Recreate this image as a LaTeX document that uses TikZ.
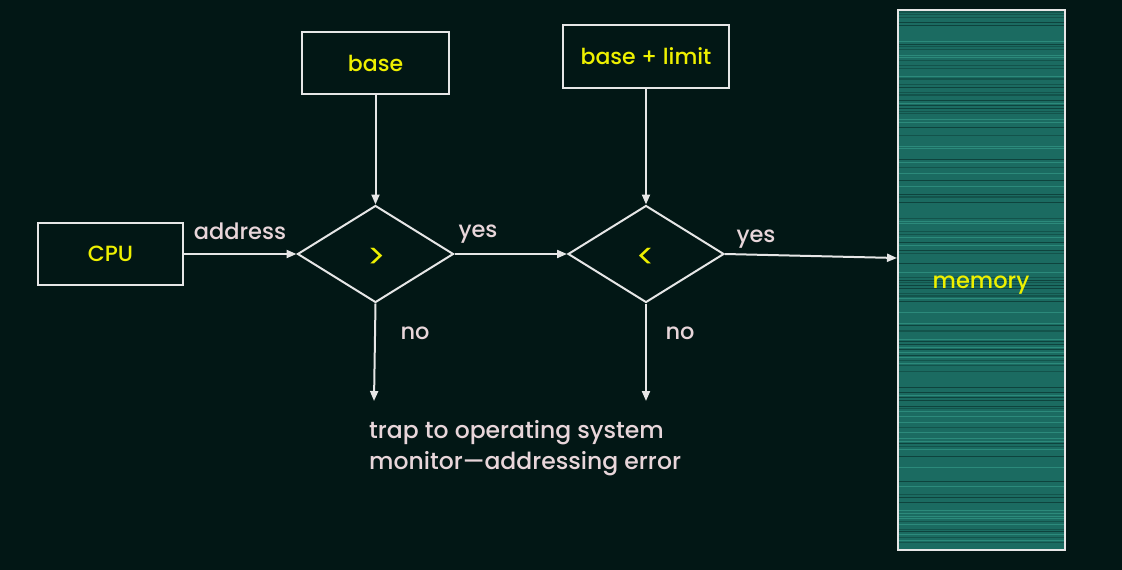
\documentclass[tikz,border=0pt]{standalone}
\usepackage{fontspec}
\setmainfont{Poppins Medium}
\newfontfamily\cmpfont{Poppins}
\usetikzlibrary{arrows.meta,shapes.geometric}
\definecolor{bg}{HTML}{021715}
\definecolor{ln}{HTML}{E6E6E6}
\definecolor{yel}{HTML}{EEF000}
\definecolor{lbl}{HTML}{E8D6DA}
\definecolor{teal1}{HTML}{1B6B61}
\definecolor{teal2}{HTML}{0E433D}
\definecolor{teal3}{HTML}{2C8A7B}
\tikzset{
  box/.style={draw=ln,line width=2pt,minimum width=#1,minimum height=62pt,inner sep=0pt,text=yel,font=\fontsize{22}{26}\selectfont},
  dec/.style={draw=ln,line width=2pt,diamond,minimum width=156pt,minimum height=97pt,inner sep=0pt},
  cmp/.style={text=yel,font=\cmpfont\fontsize{34}{40}\selectfont,inner sep=0pt},
  conn/.style={draw=ln,line width=2pt,-{Triangle[length=10pt,width=8pt]}},
  lab/.style={text=lbl,font=\fontsize{22.5}{26}\selectfont,inner sep=0pt},
}
\begin{document}
\begin{tikzpicture}[x=1pt,y=-1pt]
\fill[bg] (0,0) rectangle (1122,570);
\useasboundingbox (0,0) rectangle (1122,570);
% memory
\fill[teal1] (898,10) rectangle (1065,550);
\pgfmathsetseed{7}
\foreach \i in {0,...,200}{
  \pgfmathsetmacro{\yy}{12+\i*2.68}
  \pgfmathrandominteger{\c}{0}{4}
  \ifcase\c
    \draw[teal2,line width=0.9pt] (899,\yy) -- (1064,\yy);
  \or
    \draw[teal3,line width=0.6pt] (899,\yy) -- (1064,\yy);
  \or
    \draw[teal2!60!teal1,line width=1.2pt] (899,\yy) -- (1064,\yy);
  \or
  \or
  \fi
}
\node[draw=ln,line width=2pt,minimum width=167pt,minimum height=540pt,inner sep=0pt] (mem) at (981.5,280) {};
\node[text=yel,font=\fontsize{22.5}{26}\selectfont] (memt) at (981,285) {memory};
% boxes
\node[box=145pt] (cpu) at (110.5,254) {CPU};
\node[box=147pt] (base) at (375.5,63) {base};
\node[box=166pt,minimum height=63pt] (bl) at (646,56.5) {base + limit};
\node[dec] (d1) at (375.5,254) {};
\node[dec] (d2) at (646,254) {};
\node[cmp] (c1) at (376.5,258) {>};
\node[cmp] (c2) at (645.5,258) {<};
\coordinate (t1) at (374,401);
\coordinate (t2) at (646,401);
\coordinate (memin) at (mem.west |- 0,258);
% connectors
\draw[conn] (cpu.east) -- (d1.west);
\draw[conn] (base.south) -- (d1.north);
\draw[conn] (d1.east) -- (d2.west);
\draw[conn] (bl.south) -- (d2.north);
\draw[conn] (d2.east) -- (memin);
\draw[conn] (d1.south) -- (t1);
\draw[conn] (d2.south) -- (t2);
% labels
\node[lab] (la) at (240,231) {address};
\node[lab] (ly1) at (478,234) {yes};
\node[lab] (ly2) at (756,239) {yes};
\node[lab] (ln1) at (415,333) {no};
\node[lab] (ln2) at (680,333) {no};
\node[lab,anchor=north west,align=left,font=\fontsize{23.5}{31}\selectfont] (trap) at (369,420) {trap to operating system\\monitor—addressing error};
\end{tikzpicture}
\end{document}
